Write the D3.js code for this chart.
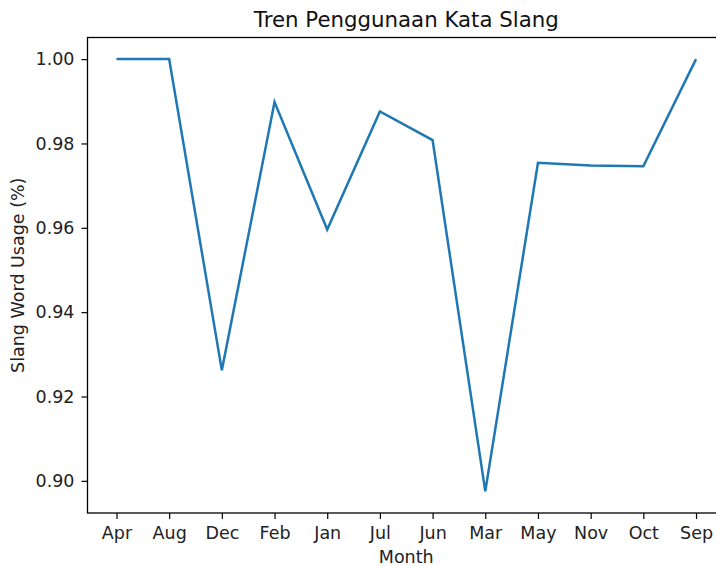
<!DOCTYPE html>
<html>
<head>
<meta charset="utf-8">
<script src="https://cdn.jsdelivr.net/npm/d3@7"></script>
<style>
  body { margin: 0; background: #fff; }
  svg { font-family: "DejaVu Sans", sans-serif; display: block; }
</style>
</head>
<body>
<script>
// data
const months = ["Apr", "Aug", "Dec", "Feb", "Jan", "Jul", "Jun", "Mar", "May", "Nov", "Oct", "Sep"];
const usage = [1.0, 1.0, 0.9262, 0.9898, 0.9596, 0.9876, 0.9808, 0.8975, 0.9754, 0.9748, 0.9746, 1.0];
const yTicks = [0.90, 0.92, 0.94, 0.96, 0.98, 1.00];

const width = 716, height = 566;
const margin = {left: 87.5, top: 37.5, right: 725, bottom: 513};

const svg = d3.select("body").append("svg")
  .attr("width", width).attr("height", height);

// matplotlib style 5% padding
const n = months.length;
const x = d3.scaleLinear()
  .domain([-0.55, n - 1 + 0.55])
  .range([margin.left, margin.right]);
const yMin = d3.min(usage), yMax = d3.max(usage), pad = (yMax - yMin) * 0.05;
const y = d3.scaleLinear()
  .domain([yMin - pad, yMax + pad])
  .range([margin.bottom, margin.top]);

const xAxis = d3.axisBottom(x)
  .tickValues(d3.range(n))
  .tickFormat(i => months[i])
  .tickSize(6).tickPadding(8);
const yAxis = d3.axisLeft(y)
  .tickValues(yTicks)
  .tickFormat(d3.format(".2f"))
  .tickSize(6).tickPadding(7);

const gx = svg.append("g")
  .attr("transform", `translate(0,${margin.bottom})`)
  .call(xAxis);
const gy = svg.append("g")
  .attr("transform", `translate(${margin.left},0)`)
  .call(yAxis);

[gx, gy].forEach(g => {
  g.select(".domain").remove();
  g.selectAll("line").attr("stroke", "#000").attr("stroke-width", 1.2);
  g.selectAll("text").attr("fill", "#222").style("font-size", "17.5px")
    .style("font-family", "DejaVu Sans");
});

// frame
svg.append("rect")
  .attr("x", margin.left).attr("y", margin.top)
  .attr("width", margin.right - margin.left)
  .attr("height", margin.bottom - margin.top)
  .attr("fill", "none").attr("stroke", "#000").attr("stroke-width", 1.3);

const line = d3.line()
  .x((d, i) => x(i))
  .y(d => y(d));

svg.append("path")
  .datum(usage)
  .attr("d", line)
  .attr("fill", "none")
  .attr("stroke", "#1f77b4")
  .attr("stroke-width", 2.5)
  .attr("stroke-linejoin", "miter");

svg.append("text")
  .attr("x", (margin.left + margin.right) / 2)
  .attr("y", 27)
  .attr("text-anchor", "middle")
  .style("font-size", "21.3px")
  .attr("fill", "#111")
  .text("Tren Penggunaan Kata Slang");

svg.append("text")
  .attr("x", (margin.left + margin.right) / 2)
  .attr("y", 563)
  .attr("text-anchor", "middle")
  .style("font-size", "17.5px")
  .attr("fill", "#222")
  .text("Month");

svg.append("text")
  .attr("transform", `translate(23.5,${(margin.top + margin.bottom) / 2}) rotate(-90)`)
  .attr("text-anchor", "middle")
  .style("font-size", "17.5px")
  .attr("fill", "#222")
  .text("Slang Word Usage (%)");
</script>
</body>
</html>
